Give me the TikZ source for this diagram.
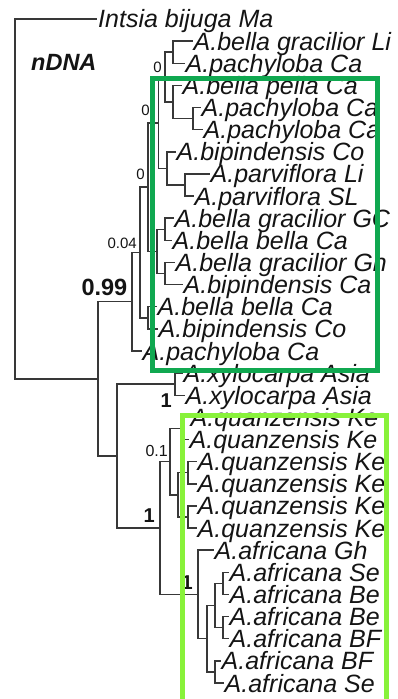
\documentclass[tikz,border=0pt]{standalone}
\usepackage{fontspec}
\setmainfont{Liberation Sans}
\definecolor{treegray}{HTML}{383838}
\definecolor{txt}{HTML}{141414}
\definecolor{boxdark}{HTML}{10A850}
\definecolor{boxlight}{HTML}{88F23A}
\begin{document}
\begin{tikzpicture}[x=1pt,y=-1pt,
  br/.style={draw=treegray, line width=1.5pt},
  leaf/.style={anchor=base west, inner sep=0pt, text=txt,
    font=\fontsize{25}{30}\selectfont\itshape},
  support/.style={anchor=base east, inner sep=0pt, text=txt,
    font=\fontsize{15}{18}\selectfont},
  bigsupport/.style={support, font=\fontsize{20}{24}\selectfont\bfseries},
  cladebox/.style={line width=5pt, line join=miter}
]
\useasboundingbox (0,0) rectangle (398,699);
\clip (0,0) rectangle (398,699);

% ---------- leaves (tips) ----------
\coordinate (l1)  at (97,19.00);
\coordinate (l2)  at (193,41.13);
\coordinate (l3)  at (185,63.27);
\coordinate (l4)  at (182,85.40);
\coordinate (l5)  at (201,107.53);
\coordinate (l6)  at (203,129.67);
\coordinate (l7)  at (176,151.80);
\coordinate (l8)  at (210,173.93);
\coordinate (l9)  at (194,196.07);
\coordinate (l10) at (174,218.20);
\coordinate (l11) at (172,240.33);
\coordinate (l12) at (175,262.47);
\coordinate (l13) at (183,284.60);
\coordinate (l14) at (157,306.73);
\coordinate (l15) at (158,328.87);
\coordinate (l16) at (142,351.00);
\coordinate (l17) at (183,373.13);
\coordinate (l18) at (185,395.27);
\coordinate (l19) at (190,417.40);
\coordinate (l20) at (189,439.53);
\coordinate (l21) at (197,461.67);
\coordinate (l22) at (197,483.80);
\coordinate (l23) at (197,505.93);
\coordinate (l24) at (197,528.07);
\coordinate (l25) at (214,550.20);
\coordinate (l26) at (229,572.33);
\coordinate (l27) at (229,594.47);
\coordinate (l28) at (229,616.60);
\coordinate (l29) at (229,638.73);
\coordinate (l30) at (221,660.87);
\coordinate (l31) at (224,683.00);

% ---------- internal nodes ----------
\coordinate (nA)  at (173,52.20);
\coordinate (nB)  at (193,118.60);
\coordinate (nC)  at (173,102.00);
\coordinate (nD)  at (165,77.10);
\coordinate (nE)  at (185,185.00);
\coordinate (nF)  at (167,168.40);
\coordinate (nG)  at (158.3,122.75);
\coordinate (nH)  at (165,229.27);
\coordinate (nI)  at (165,273.53);
\coordinate (nJ)  at (157,251.40);
\coordinate (nK)  at (148,187.08);
\coordinate (nL)  at (148,317.80);
\coordinate (nM)  at (140,252.44);
\coordinate (nN)  at (132,301.72);
\coordinate (nP)  at (175,384.20);
\coordinate (nS)  at (182,428.47);
\coordinate (nT)  at (188,472.73);
\coordinate (nU)  at (188,517.00);
\coordinate (nV)  at (178,494.87);
\coordinate (nR)  at (170,461.67);
\coordinate (nZa) at (223,583.40);
\coordinate (nZb) at (223,627.67);
\coordinate (nY)  at (215,605.53);
\coordinate (nZc) at (215,671.93);
\coordinate (nX)  at (207,638.73);
\coordinate (nW)  at (198,594.47);
\coordinate (nQ)  at (160,528.07);
\coordinate (nO2) at (117,456.13);
\coordinate (nO)  at (98,378.93);
\coordinate (root) at (15,198.97);

% ---------- branches ----------
\draw[br] (root) |- (l1);  \draw[br] (root) |- (nO);
\draw[br] (nO) |- (nN);    \draw[br] (nO) |- (nO2);
\draw[br] (nN) |- (nM);    \draw[br] (nN) |- (l16);
\draw[br] (nM) |- (nK);    \draw[br] (nM) |- (nL);
\draw[br] (nL) |- (l14);   \draw[br] (nL) |- (l15);
\draw[br] (nK) |- (nG);    \draw[br] (nK) |- (nJ);
\draw[br] (nJ) |- (nH);    \draw[br] (nJ) |- (nI);
\draw[br] (nH) |- (l10);   \draw[br] (nH) |- (l11);
\draw[br] (nI) |- (l12);   \draw[br] (nI) |- (l13);
\draw[br] (nG) |- (nD);    \draw[br] (nG) |- (nF);
\draw[br] (nF) |- (l7);    \draw[br] (nF) |- (nE);
\draw[br] (nE) |- (l8);    \draw[br] (nE) |- (l9);
\draw[br] (nD) |- (nA);    \draw[br] (nD) |- (nC);
\draw[br] (nA) |- (l2);    \draw[br] (nA) |- (l3);
\draw[br] (nC) |- (l4);    \draw[br] (nC) |- (nB);
\draw[br] (nB) |- (l5);    \draw[br] (nB) |- (l6);
\draw[br] (nO2) |- (nP);   \draw[br] (nO2) |- (nQ);
\draw[br] (nP) |- (l17);   \draw[br] (nP) |- (l18);
\draw[br] (nQ) |- (nR);    \draw[br] (nQ) |- (nW);
\draw[br] (nR) |- (nS);    \draw[br] (nR) |- (nV);
\draw[br] (nS) |- (l19);   \draw[br] (nS) |- (l20);
\draw[br] (nV) |- (nT);    \draw[br] (nV) |- (nU);
\draw[br] (nT) |- (l21);   \draw[br] (nT) |- (l22);
\draw[br] (nU) |- (l23);   \draw[br] (nU) |- (l24);
\draw[br] (nW) |- (l25);   \draw[br] (nW) |- (nX);
\draw[br] (nX) |- (nY);    \draw[br] (nX) |- (nZc);
\draw[br] (nY) |- (nZa);   \draw[br] (nY) |- (nZb);
\draw[br] (nZa) |- (l26);  \draw[br] (nZa) |- (l27);
\draw[br] (nZb) |- (l28);  \draw[br] (nZb) |- (l29);
\draw[br] (nZc) |- (l30);  \draw[br] (nZc) |- (l31);

% ---------- tip labels ----------
\node[leaf] (t1)  at ([shift={(1,8.7)}]l1)  {Intsia bijuga Ma};
\node[leaf] (t2)  at ([shift={(0.5,9)}]l2)  {A.bella gracilior Li};
\node[leaf] (t3)  at ([shift={(0.5,9)}]l3)  {A.pachyloba Ca};
\node[leaf] (t4)  at ([shift={(0.5,9)}]l4)  {A.bella pella Ca};
\node[leaf] (t5)  at ([shift={(0.5,9)}]l5)  {A.pachyloba Ca};
\node[leaf] (t6)  at ([shift={(0.5,9)}]l6)  {A.pachyloba Ca};
\node[leaf] (t7)  at ([shift={(0.5,9)}]l7)  {A.bipindensis Co};
\node[leaf] (t8)  at ([shift={(0.5,9)}]l8)  {A.parviflora Li};
\node[leaf] (t9)  at ([shift={(0.5,9)}]l9)  {A.parviflora SL};
\node[leaf] (t10) at ([shift={(0.5,9)}]l10) {A.bella gracilior GC};
\node[leaf] (t11) at ([shift={(0.5,9)}]l11) {A.bella bella Ca};
\node[leaf] (t12) at ([shift={(0.5,9)}]l12) {A.bella gracilior Gh};
\node[leaf] (t13) at ([shift={(0.5,9)}]l13) {A.bipindensis Ca};
\node[leaf] (t14) at ([shift={(0.5,9)}]l14) {A.bella bella Ca};
\node[leaf] (t15) at ([shift={(0.5,9)}]l15) {A.bipindensis Co};
\node[leaf] (t16) at ([shift={(0.5,9)}]l16) {A.pachyloba Ca};
\node[leaf] (t17) at ([shift={(0.5,9)}]l17) {A.xylocarpa Asia};
\node[leaf] (t18) at ([shift={(0.5,9)}]l18) {A.xylocarpa Asia};
\node[leaf] (t19) at ([shift={(0.5,9)}]l19) {A.quanzensis Ke};
\node[leaf] (t20) at ([shift={(0.5,9)}]l20) {A.quanzensis Ke};
\node[leaf] (t21) at ([shift={(0.5,9)}]l21) {A.quanzensis Ke};
\node[leaf] (t22) at ([shift={(0.5,9)}]l22) {A.quanzensis Ke};
\node[leaf] (t23) at ([shift={(0.5,9)}]l23) {A.quanzensis Ke};
\node[leaf] (t24) at ([shift={(0.5,9)}]l24) {A.quanzensis Ke};
\node[leaf] (t25) at ([shift={(0.5,9)}]l25) {A.africana Gh};
\node[leaf] (t26) at ([shift={(0.5,9)}]l26) {A.africana Se};
\node[leaf] (t27) at ([shift={(0.5,9)}]l27) {A.africana Be};
\node[leaf] (t28) at ([shift={(0.5,9)}]l28) {A.africana Be};
\node[leaf] (t29) at ([shift={(0.5,9)}]l29) {A.africana BF};
\node[leaf] (t30) at ([shift={(0.5,9)}]l30) {A.africana BF};
\node[leaf] (t31) at ([shift={(0.5,9)}]l31) {A.africana Se};

% ---------- title ----------
\node[anchor=base west, inner sep=0pt, text=txt,
  font=\fontsize{23.5}{28}\selectfont\bfseries\itshape] (title) at (31,70) {nDNA};

% ---------- support values ----------
\node[support] (sD) at ([shift={(-3,-5.1)}]nD) {0};
\node[support] (sG) at ([shift={(-8.3,-7.75)}]nG) {0};
\node[support] (sK) at ([shift={(-3,-7.1)}]nK) {0};
\node[support] (sM) at ([shift={(-3,-4.4)}]nM) {0.04};
\node[support, font=\fontsize{23.5}{28}\selectfont\bfseries] (sN) at ([shift={(-4.5,-6.7)}]nN) {0.99};
\node[bigsupport] (sP) at ([shift={(-3,22.8)}]nP) {1};
\node[support, font=\fontsize{16}{19}\selectfont] (sR) at ([shift={(-2,-4.7)}]nR) {0.1};
\node[bigsupport] (sQ) at ([shift={(-5,-5.1)}]nQ) {1};
\node[bigsupport] (sW) at ([shift={(-5,-4.5)}]nW) {1};

% ---------- clade boxes ----------
\draw[cladebox, draw=boxdark]  (152.5,78.5) rectangle (377.5,370);
\draw[cladebox, draw=boxlight] (182.5,415) rectangle (386,720);
\end{tikzpicture}
\end{document}
